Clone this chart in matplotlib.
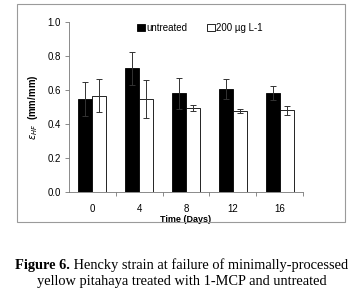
import matplotlib
matplotlib.use("Agg")
import matplotlib.pyplot as plt
import numpy as np
from matplotlib.patches import Rectangle

days = ["0", "4", "8", "12", "16"]
untreated = [0.549, 0.727, 0.580, 0.607, 0.582]
untreated_err = [0.100, 0.097, 0.093, 0.057, 0.040]
treated = [0.567, 0.549, 0.494, 0.474, 0.480]
treated_err = [0.096, 0.112, 0.020, 0.012, 0.026]

W, H = 363, 294
fig = plt.figure(figsize=(W / 100, H / 100), dpi=100)
plt.rcParams["font.family"] = ["Liberation Sans", "DejaVu Sans"]

# outer gray frame around the chart
fig.patches.append(Rectangle((17 / W, 1 - 222 / H), (345 - 17) / W, (222 - 4) / H,
                             transform=fig.transFigure, fill=False, ec="#9a9a9a", lw=0.8))

ax = fig.add_axes([69 / W, 1 - 192 / H, (303 - 69) / W, (192 - 22) / H])
x = np.arange(len(days))
w = 0.3
ax.bar(x - w / 2, untreated, w, color="black", edgecolor="black", lw=0.6, label="untreated")
ax.bar(x + w / 2, treated, w, color="white", edgecolor="black", lw=0.6, label="200 µg L-1")
ax.errorbar(x - w / 2, untreated, yerr=untreated_err, fmt="none", ecolor="#333333", elinewidth=0.7, capsize=2.2, capthick=0.7)
ax.errorbar(x + w / 2, treated, yerr=treated_err, fmt="none", ecolor="#333333", elinewidth=0.7, capsize=2.2, capthick=0.7)

ax.set_xlim(-0.5, len(days) - 0.5)
ax.set_ylim(0, 1.0)
ax.set_yticks(np.arange(0, 1.01, 0.2))
ax.set_yticklabels(["%.1f" % v for v in np.arange(0, 1.01, 0.2)], fontsize=7)
ax.set_xticks(x)
ax.set_xticklabels(days, fontsize=7)
ax.set_xticks(np.arange(0.5, len(days), 1), minor=True)
ax.tick_params(axis="x", which="major", length=0, pad=9)
ax.tick_params(axis="x", which="minor", length=3, color="#777777", width=0.6)
ax.tick_params(axis="y", length=3, color="#777777", width=0.6, pad=3)
for s in ["top", "right"]:
    ax.spines[s].set_visible(False)
for s in ["left", "bottom"]:
    ax.spines[s].set_color("#777777")
    ax.spines[s].set_linewidth(0.6)
ax.set_xlabel("Time (Days)", fontsize=6.5, fontweight="bold", labelpad=0)
ax.set_ylabel(r"$\varepsilon_{HF}$  (mm/mm)", fontsize=7, fontweight="bold", labelpad=5)
ax.legend(loc="upper center", bbox_to_anchor=(0.56, 1.045), ncol=2, frameon=False, fontsize=7,
          handlelength=0.8, handleheight=0.8, handletextpad=0.15, columnspacing=2.0)

# caption with bold "Figure 6."
fig.canvas.draw()
r = fig.canvas.get_renderer()
def caption_line(y, bold, rest):
    tb = fig.text(0, y, bold, fontsize=10.4, fontweight="bold", family="Liberation Serif", va="center")
    tr = fig.text(0, y, rest, fontsize=10.4, family="Liberation Serif", va="center")
    wb = tb.get_window_extent(r).width
    wr = tr.get_window_extent(r).width
    x0 = (W - wb - wr) / 2
    tb.set_x(x0 / W)
    tr.set_x((x0 + wb) / W)

caption_line(1 - 265 / H, "Figure 6.", " Hencky strain at failure of minimally-processed")
caption_line(1 - 282 / H, "", "yellow pitahaya treated with 1-MCP and untreated")

fig.savefig("out.png", dpi=100)
